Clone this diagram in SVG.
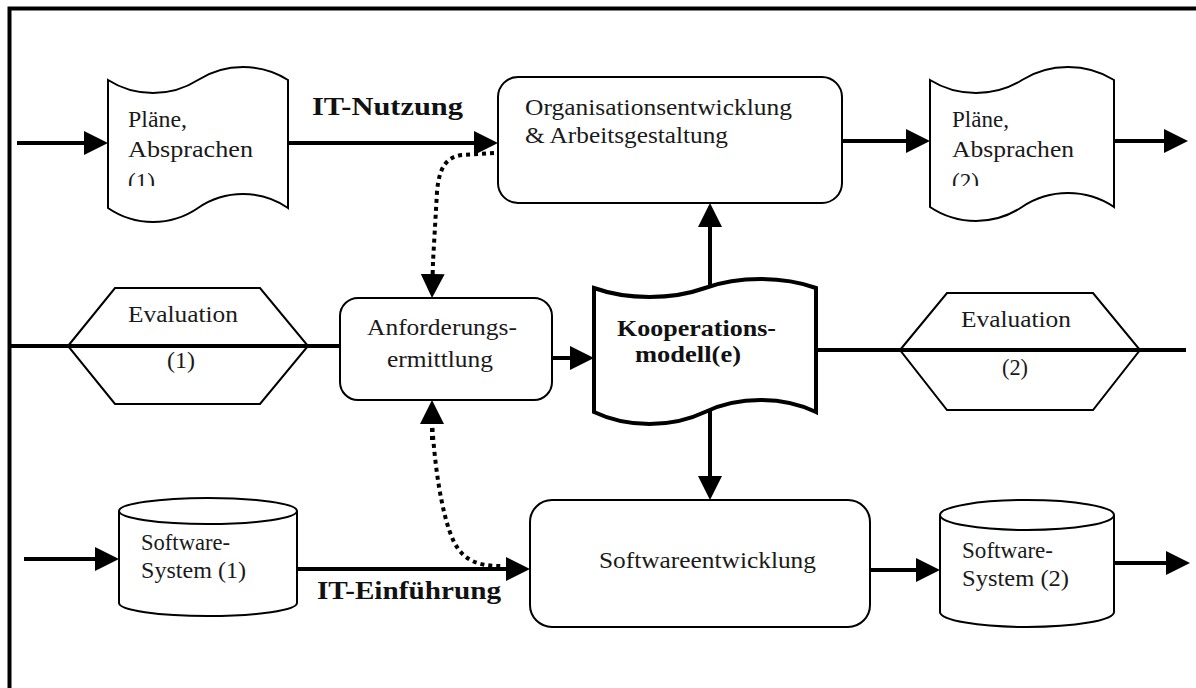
<svg xmlns="http://www.w3.org/2000/svg" width="1196" height="688" viewBox="0 0 1196 688">
  <style>
    .shape { fill: #ffffff; stroke: #000000; stroke-width: 2; }
    .bold-shape { fill: #ffffff; stroke: #000000; stroke-width: 4; }
    .line { fill: none; stroke: #000000; stroke-width: 4; }
    .dotted { fill: none; stroke: #000000; stroke-width: 4; stroke-dasharray: 4 4; }
    .arrow { marker-end: url(#head); }
    .txt { font-family: "Liberation Serif", "Times New Roman", serif; font-size: 23px; fill: #1a1a1a; }
    .btxt { font-family: "Liberation Serif", "Times New Roman", serif; font-size: 25px; font-weight: bold; fill: #111111; }
    .ktxt { font-family: "Liberation Serif", "Times New Roman", serif; font-size: 23px; font-weight: bold; fill: #111111; }
  </style>
  <defs>
    <marker id="head" viewBox="0 0 24 24" refX="6" refY="12" markerWidth="24" markerHeight="24" markerUnits="userSpaceOnUse" orient="auto-start-reverse">
      <path d="M0,0 L24,12 L0,24 Z" fill="#000000"/>
    </marker>
    <clipPath id="clipPlan1"><rect x="110" y="95" width="176" height="91"/></clipPath>
    <clipPath id="clipPlan2"><rect x="932" y="95" width="180" height="91"/></clipPath>
  </defs>

  <rect x="0" y="0" width="1196" height="688" fill="#ffffff"/>

  <!-- outer frame, open to the right and bottom -->
  <path d="M9.5,688 L9.5,8.5 L1196,8.5" fill="none" stroke="#000000" stroke-width="4"/>

  <!-- connectors -->
  <g id="connectors">
    <path class="line arrow" d="M17,143 L90,143"/>
    <path class="line arrow" d="M288,143 L480,143"/>
    <path class="line arrow" d="M842,141 L912,141"/>
    <path class="line arrow" d="M1114,141 L1170,141"/>

    <path class="line" d="M9,346 L340,346"/>
    <path class="line arrow" d="M552,358 L576,358"/>
    <path class="line" d="M816,350 L1186,350"/>
    <path class="line arrow" d="M710,288 L710,221"/>
    <path class="line arrow" d="M710,411 L710,482"/>

    <path class="line arrow" d="M24,559 L101,559"/>
    <path class="line arrow" d="M297,569 L512,569"/>
    <path class="line arrow" d="M870,570 L922,570"/>
    <path class="line arrow" d="M1114,563 L1172,563"/>

    <path class="dotted" d="M494,153 L462,155 C446,157 439,168 437,192 L433,262" />
    <path class="line" d="M433,262 L432.5,280" stroke-dasharray="4 4" marker-end="url(#head)"/>
    <path class="dotted" d="M432,420 C434,460 441,515 454,542 C464,561 478,566 502,566"/>
    <path class="line" d="M432,440 L432,418" stroke-dasharray="4 4" marker-end="url(#head)"/>
  </g>

  <!-- top row -->
  <g id="plaene1">
    <path class="shape" d="M108,80 C135,97.3 171,97.3 198,80 C225,62.7 261,62.7 288,80 L288,208 C261,189.4 225,189.4 198,208 C171,226.6 135,226.6 108,208 Z"/>
    <g clip-path="url(#clipPlan1)">
      <text class="txt" x="128" y="127" textLength="59" lengthAdjust="spacingAndGlyphs">Pläne,</text>
      <text class="txt" x="128" y="157" textLength="125" lengthAdjust="spacingAndGlyphs">Absprachen</text>
      <text class="txt" x="128" y="189" textLength="27" lengthAdjust="spacingAndGlyphs">(1)</text>
    </g>
  </g>

  <g id="label-it-nutzung">
    <text class="btxt" x="312" y="115" textLength="151" lengthAdjust="spacingAndGlyphs">IT-Nutzung</text>
  </g>

  <g id="organisation">
    <rect class="shape" x="498" y="77" width="344" height="126" rx="20" ry="20"/>
    <text class="txt" x="525" y="115" textLength="267" lengthAdjust="spacingAndGlyphs">Organisationsentwicklung</text>
    <text class="txt" x="525" y="143" textLength="203" lengthAdjust="spacingAndGlyphs">&amp; Arbeitsgestaltung</text>
  </g>

  <g id="plaene2">
    <path class="shape" d="M930,80 C957.6,97.3 994.4,97.3 1022,80 C1049.6,62.7 1086.4,62.7 1114,80 L1114,207 C1086.4,188.4 1049.6,188.4 1022,207 C994.4,225.6 957.6,225.6 930,207 Z"/>
    <g clip-path="url(#clipPlan2)">
      <text class="txt" x="952" y="127" textLength="57" lengthAdjust="spacingAndGlyphs">Pläne,</text>
      <text class="txt" x="952" y="157" textLength="122" lengthAdjust="spacingAndGlyphs">Absprachen</text>
      <text class="txt" x="952" y="189" textLength="27" lengthAdjust="spacingAndGlyphs">(2)</text>
    </g>
  </g>

  <!-- middle row -->
  <g id="evaluation1">
    <polygon class="shape" points="68,346 115,288 260,288 308,346 260,404 115,404"/>
    <path class="line" d="M68,346 L308,346"/>
    <text class="txt" x="128" y="322" textLength="110" lengthAdjust="spacingAndGlyphs">Evaluation</text>
    <text class="txt" x="167" y="368" textLength="28" lengthAdjust="spacingAndGlyphs">(1)</text>
  </g>

  <g id="anforderung">
    <rect class="shape" x="340" y="298" width="212" height="102" rx="18" ry="18"/>
    <text class="txt" x="367" y="335" textLength="150" lengthAdjust="spacingAndGlyphs">Anforderungs-</text>
    <text class="txt" x="387" y="367" textLength="106" lengthAdjust="spacingAndGlyphs">ermittlung</text>
  </g>

  <g id="kooperationsmodell">
    <path class="bold-shape" d="M594,288 C627.3,300 671.7,300 705,288 C738.3,276 782.7,276 816,288 L816,412 C782.7,396 738.3,396 705,412 C671.7,428 627.3,428 594,412 Z"/>
    <text class="ktxt" x="617" y="336" textLength="159" lengthAdjust="spacingAndGlyphs">Kooperations-</text>
    <text class="ktxt" x="635" y="362" textLength="106" lengthAdjust="spacingAndGlyphs">modell(e)</text>
  </g>

  <g id="evaluation2">
    <polygon class="shape" points="900,350 947,293 1093,293 1140,350 1093,410 947,410"/>
    <path class="line" d="M900,350 L1140,350"/>
    <text class="txt" x="961" y="327" textLength="110" lengthAdjust="spacingAndGlyphs">Evaluation</text>
    <text class="txt" x="1002" y="375" textLength="26" lengthAdjust="spacingAndGlyphs">(2)</text>
  </g>

  <!-- bottom row -->
  <g id="softwaresystem1">
    <path class="shape" d="M119,511 A89,13 0 0 1 297,511 L297,603 A89,13 0 0 1 119,603 Z"/>
    <path class="shape" fill="none" d="M119,511 A89,13 0 0 0 297,511"/>
    <text class="txt" x="141" y="550" textLength="89" lengthAdjust="spacingAndGlyphs">Software-</text>
    <text class="txt" x="141" y="578" textLength="105" lengthAdjust="spacingAndGlyphs">System (1)</text>
  </g>

  <g id="label-it-einfuehrung">
    <text class="btxt" x="317" y="599" textLength="184" lengthAdjust="spacingAndGlyphs">IT-Einführung</text>
  </g>

  <g id="softwareentwicklung">
    <rect class="shape" x="530" y="500" width="340" height="127" rx="22" ry="22"/>
    <text class="txt" x="599" y="568" textLength="217" lengthAdjust="spacingAndGlyphs">Softwareentwicklung</text>
  </g>

  <g id="softwaresystem2">
    <path class="shape" d="M940,515 A87,15 0 0 1 1114,515 L1114,612 A87,15 0 0 1 940,612 Z"/>
    <path class="shape" fill="none" d="M940,515 A87,15 0 0 0 1114,515"/>
    <text class="txt" x="962" y="558" textLength="91" lengthAdjust="spacingAndGlyphs">Software-</text>
    <text class="txt" x="962" y="586" textLength="107" lengthAdjust="spacingAndGlyphs">System (2)</text>
  </g>
</svg>
